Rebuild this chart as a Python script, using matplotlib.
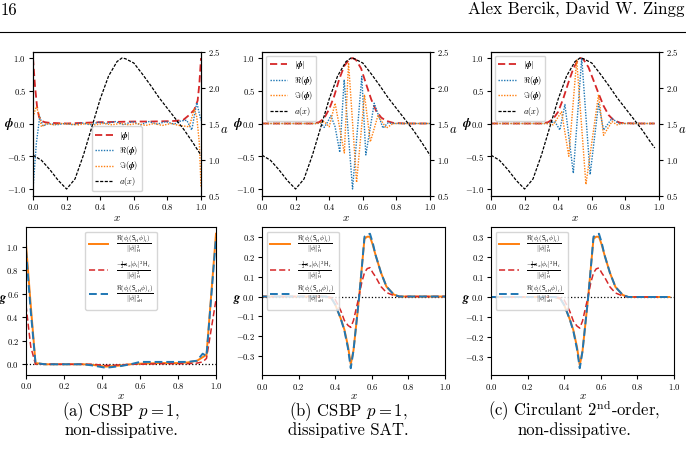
import matplotlib
matplotlib.use("Agg")
import matplotlib.pyplot as plt

plt.rcParams.update({
    "font.family": ["cmr10", "DejaVu Serif"],
    "mathtext.fontset": "cm",
    "axes.formatter.use_mathtext": True,
    "axes.unicode_minus": True,
    "xtick.labelsize": 6.2,
    "ytick.labelsize": 6.2,
    "axes.linewidth": 0.8,
})

C_RED = "#d62728"
C_BLUE = "#1f77b4"
C_ORANGE = "#ff7f0e"

# ---------------- coefficient a(x) ----------------
a_x = [0.0, 0.05, 0.1, 0.15, 0.2, 0.25, 0.3, 0.35, 0.4, 0.45, 0.5, 0.53, 0.55,
       0.6, 0.65, 0.7, 0.75, 0.8, 0.85, 0.9, 0.95, 1.0]
a_val = [1.06, 0.99, 0.86, 0.71, 0.59, 0.73, 1.06, 1.45, 1.84, 2.16, 2.36, 2.41, 2.40,
         2.34, 2.19, 2.03, 1.86, 1.71, 1.56, 1.41, 1.24, 1.06]
a_x_c = a_x[:-1] + [0.975]
a_val_c = a_val[:-1] + [1.16]

# ---------------- panel (a) eigenvector ----------------
absA_x = [0, 0.012, 0.024, 0.036, 0.05, 0.07, 0.1, 0.2, 0.3, 0.4, 0.5, 0.6, 0.7,
          0.8, 0.85, 0.895, 0.93, 0.96, 0.98, 0.99, 1.0]
absA = [1.0, 0.57, 0.26, 0.10, 0.04, 0.02, 0.01, 0.0, 0.01, 0.02, 0.025, 0.03, 0.03,
        0.035, 0.04, 0.056, 0.13, 0.21, 0.35, 0.6, 1.0]
reA_x = [0, 0.02, 0.04, 0.06, 0.09, 0.14, 0.19, 0.24, 0.29, 0.34, 0.39, 0.44, 0.49,
         0.54, 0.59, 0.64, 0.69, 0.74, 0.79, 0.84, 0.88, 0.915, 0.945, 0.975, 0.99, 1.0]
reA = [-1.0, -0.3, 0.10, -0.04, 0.0, -0.02, 0.0, -0.02, 0.01, -0.02, 0.02, 0.0, 0.03,
       -0.02, 0.03, -0.02, 0.03, -0.01, 0.03, -0.01, 0.04, 0.05, -0.10, 0.32, 0.15, 0.05]
imA_x = [0, 0.02, 0.04, 0.05, 0.08, 0.12, 0.17, 0.22, 0.27, 0.32, 0.37, 0.42, 0.47,
         0.52, 0.57, 0.62, 0.67, 0.72, 0.77, 0.82, 0.87, 0.93, 0.96, 0.975, 0.99, 1.0]
imA = [0.1, 0.26, 0.10, -0.05, 0.0, -0.02, 0.0, -0.01, -0.02, 0.0, -0.02, 0.0, -0.02,
       0.0, -0.02, 0.0, -0.03, 0.0, -0.03, 0.0, -0.03, -0.05, 0.22, 0.10, -0.3, -0.97]

# ---------------- panel (b) eigenvector ----------------
absB_x = [0.0, 0.30, 0.34, 0.37, 0.40, 0.43, 0.46, 0.49, 0.52, 0.54, 0.56, 0.59, 0.62,
          0.65, 0.68, 0.71, 0.74, 0.78, 0.85, 1.0]
absB = [0.0, 0.0, 0.02, 0.08, 0.22, 0.42, 0.68, 0.88, 0.98, 1.0, 0.97, 0.84, 0.60,
        0.37, 0.19, 0.09, 0.04, 0.01, 0.0, 0.0]
reB_x = [0.0, 0.33, 0.35, 0.37, 0.39, 0.41, 0.435, 0.463, 0.489, 0.539, 0.594, 0.618,
         0.668, 0.72, 0.75, 0.78, 1.0]
reB = [0.0, 0.0, 0.01, -0.06, 0.02, 0.12, -0.05, -0.44, 0.67, -1.0, 0.72, -0.48,
       0.31, -0.07, 0.01, 0.0, 0.0]
imB_x = [0.0, 0.33, 0.37, 0.40, 0.435, 0.49, 0.515, 0.563, 0.61, 0.645, 0.69, 0.74,
         0.78, 1.0]
imB = [0.0, 0.0, 0.03, -0.05, 0.31, -0.45, 0.93, -0.90, 0.44, -0.28, 0.12, -0.07,
       0.0, 0.0]

# ---------------- panel (c) eigenvector ----------------
absC_x = [0.0, 0.30, 0.34, 0.37, 0.40, 0.43, 0.46, 0.49, 0.52, 0.535, 0.55, 0.58, 0.61,
          0.64, 0.67, 0.70, 0.73, 0.77, 0.85, 0.975]
absC = [0.0, 0.0, 0.02, 0.07, 0.18, 0.38, 0.62, 0.84, 0.98, 1.0, 0.98, 0.86, 0.66,
        0.46, 0.27, 0.13, 0.05, 0.01, 0.0, 0.0]
reC_x = [0.0, 0.34, 0.38, 0.41, 0.44, 0.49, 0.54, 0.59, 0.64, 0.67, 0.72, 0.76, 0.975]
reC = [0.0, 0.0, 0.03, -0.10, 0.29, -0.76, 1.0, -0.78, 0.30, -0.10, 0.08, 0.0, 0.0]
imC_x = [0.0, 0.34, 0.37, 0.42, 0.463, 0.51, 0.565, 0.64, 0.67, 0.72, 0.75, 0.78, 0.975]
imC = [0.0, 0.0, -0.02, 0.18, -0.50, 0.97, -0.93, 0.44, -0.18, 0.03, -0.02, 0.0, 0.0]

# ---------------- energy-growth indicators g ----------------
gA_x = [0, 0.025, 0.05, 0.1, 0.2, 0.3, 0.35, 0.42, 0.5, 0.55, 0.6, 0.7, 0.8, 0.85,
        0.9, 0.93, 0.95, 1.0]
gA_S = [1.02, 0.5, 0.01, 0.0, 0.0, 0.0, -0.005, -0.02, -0.01, 0.0, 0.005, 0.01, 0.01,
        0.015, 0.03, 0.06, 0.08, 1.11]
gA_ax = [0.5, 0.15, 0.0, 0.0, 0.0, 0.0, 0.0, -0.01, -0.005, 0.0, 0.0, 0.005, 0.005,
         0.005, 0.01, 0.02, 0.05, 0.55]
gA_aH = [0.97, 0.45, 0.01, 0.0, 0.0, 0.0, -0.01, -0.03, -0.015, 0.0, 0.02, 0.02, 0.02,
         0.02, 0.03, 0.09, 0.07, 1.08]

gB_x = [0, 0.35, 0.38, 0.40, 0.43, 0.45, 0.47, 0.485, 0.50, 0.515, 0.53, 0.545, 0.56,
        0.575, 0.59, 0.605, 0.62, 0.65, 0.68, 0.72, 0.75, 1.0]
gB_S = [0, 0, -0.01, -0.04, -0.11, -0.165, -0.25, -0.34, -0.27, -0.14, -0.01, 0.14,
        0.29, 0.30, 0.30, 0.26, 0.21, 0.12, 0.05, 0.01, 0, 0]
gB_ax = [0, 0, -0.005, -0.015, -0.07, -0.12, -0.145, -0.155, -0.12, -0.06, 0.0, 0.07,
         0.12, 0.14, 0.145, 0.12, 0.10, 0.05, 0.02, 0.005, 0, 0]
gB_aH = [0, 0, -0.01, -0.04, -0.11, -0.17, -0.26, -0.36, -0.27, -0.14, -0.01, 0.14,
         0.30, 0.31, 0.315, 0.27, 0.21, 0.12, 0.05, 0.01, 0, 0]

gC_x = [0, 0.35, 0.38, 0.40, 0.43, 0.45, 0.47, 0.485, 0.50, 0.515, 0.53, 0.545, 0.56,
        0.575, 0.59, 0.605, 0.62, 0.65, 0.68, 0.72, 0.75, 0.975]
gC_S = [0, 0, -0.01, -0.04, -0.11, -0.165, -0.25, -0.34, -0.27, -0.14, -0.01, 0.14,
        0.29, 0.30, 0.30, 0.26, 0.21, 0.12, 0.05, 0.01, 0, 0]
gC_ax = [0, 0, -0.005, -0.015, -0.07, -0.12, -0.145, -0.155, -0.12, -0.06, 0.0, 0.07,
         0.12, 0.14, 0.145, 0.12, 0.10, 0.05, 0.02, 0.005, 0, 0]
gC_aH = [0, 0, -0.01, -0.04, -0.11, -0.17, -0.26, -0.355, -0.27, -0.14, -0.01, 0.14,
         0.30, 0.31, 0.315, 0.27, 0.21, 0.12, 0.05, 0.01, 0, 0]

x_ticks = [0.0, 0.2, 0.4, 0.6, 0.8, 1.0]
phi_ticks = [-1.0, -0.5, 0.0, 0.5, 1.0]
a_ticks = [0.5, 1.0, 1.5, 2.0, 2.5]

lab_abs = r"$|\boldsymbol{\phi}|$"
lab_re = r"$\Re(\boldsymbol{\phi})$"
lab_im = r"$\Im(\boldsymbol{\phi})$"
lab_a = r"$a(x)$"

lab_g1 = r"$\frac{\Re(\phi_i(\mathsf{S}_{\mathsf{H}}\phi)_i)}{\|\phi\|^2_{\mathsf{H}}}$"
lab_g2 = r"$\frac{-\frac{1}{2}a_x|\phi_i|^2\mathsf{H}_i}{\|\phi\|^2_{\mathsf{H}}}$"
lab_g3 = r"$\frac{\Re(\phi_i(\mathsf{S}_{a\mathsf{H}}\phi)_i)}{\|\phi\|^2_{a\mathsf{H}}}$"

captions = [("(a) CSBP $p = 1$,", "non-dissipative."),
            ("(b) CSBP $p = 1$,", "dissipative SAT."),
            ("(c) Circulant 2$^{\\mathrm{nd}}$-order,", "non-dissipative.")]

W, H = 686, 451
fig = plt.figure(figsize=(W / 100, H / 100), dpi=100)


def rect(l, t, r, b):
    return [l / W, 1 - b / H, (r - l) / W, (b - t) / H]


top_rects = [rect(33, 51.5, 201, 195.5), rect(262, 51.5, 430, 195.5), rect(491, 51.5, 659, 195.5)]
bot_rects = [rect(26, 227, 216, 374.5), rect(262, 227, 445, 375), rect(491, 227, 674, 375)]

top_data = [
    (absA_x, absA, reA_x, reA, imA_x, imA, a_x, a_val, "lower center"),
    (absB_x, absB, reB_x, reB, imB_x, imB, a_x, a_val, "upper left"),
    (absC_x, absC, reC_x, reC, imC_x, imC, a_x_c, a_val_c, "upper left"),
]

for k, (r, d) in enumerate(zip(top_rects, top_data)):
    ax = fig.add_axes(r)
    ax2 = ax.twinx()
    l1, = ax.plot(d[0], d[1], color=C_RED, ls=(0, (4, 2)), lw=1.3)
    l2, = ax.plot(d[2], d[3], color=C_BLUE, ls=(0, (1, 1)), lw=1.0)
    l3, = ax.plot(d[4], d[5], color=C_ORANGE, ls=(0, (1, 1)), lw=1.0)
    l4, = ax2.plot(d[6], d[7], color="black", ls=(0, (2.5, 1.2)), lw=0.9)
    ax.set_xlim(0, 1)
    ax.set_ylim(-1.1, 1.1)
    ax2.set_ylim(0.5, 2.5)
    ax.set_xticks(x_ticks)
    ax.set_yticks(phi_ticks)
    ax2.set_yticks(a_ticks)
    ax.tick_params(length=3, width=0.8, pad=2)
    ax2.tick_params(length=3, width=0.8, pad=2)
    ax.set_xlabel(r"$x$", fontsize=8, labelpad=1)
    ax.set_ylabel(r"$\boldsymbol{\phi}$", fontsize=9, rotation=0, va="center", ha="center")
    ax.yaxis.set_label_coords(-0.145, 0.5)
    ax2.set_ylabel(r"$a$", fontsize=9, rotation=0, va="center", ha="center")
    ax2.yaxis.set_label_coords(1.135, 0.455)
    ax.legend([l1, l2, l3, l4], [lab_abs, lab_re, lab_im, lab_a], loc=d[8],
              fontsize=6, handlelength=2.1, labelspacing=0.3, borderpad=0.4,
              handletextpad=0.8)

bot_data = [
    (gA_x, gA_S, gA_ax, gA_aH, "upper center", -0.12),
    (gB_x, gB_S, gB_ax, gB_aH, "upper left", -0.135),
    (gC_x, gC_S, gC_ax, gC_aH, "upper left", -0.135),
]

for k, (r, d) in enumerate(zip(bot_rects, bot_data)):
    ax = fig.add_axes(r)
    ax.axhline(0, color="black", ls=":", lw=0.9)
    l1, = ax.plot(d[0], d[1], color=C_ORANGE, ls="-", lw=1.4)
    l2, = ax.plot(d[0], d[2], color=C_RED, ls=(0, (4, 2)), lw=1.1)
    l3, = ax.plot(d[0], d[3], color=C_BLUE, ls=(0, (4, 2)), lw=1.4)
    ax.set_xlim(0, 1)
    ax.set_xticks(x_ticks)
    ax.tick_params(length=3, width=0.8, pad=2)
    ax.set_xlabel(r"$x$", fontsize=8, labelpad=0)
    ax.set_ylabel(r"$\boldsymbol{g}$", fontsize=9, rotation=0, va="center", ha="center")
    ax.yaxis.set_label_coords(d[5], 0.51)
    ax.legend([l1, l2, l3], [lab_g1, lab_g2, lab_g3], loc=d[4], fontsize=6.5,
              handlelength=2.2, labelspacing=0.35, borderpad=0.4, handletextpad=0.8)

# captions
cap_x = [121, 348, 574]
for cx, (c1, c2) in zip(cap_x, captions):
    fig.text(cx / W, 1 - 416.5 / H, c1, ha="center", va="baseline", fontsize=12)
    fig.text(cx / W, 1 - 435 / H, c2, ha="center", va="baseline", fontsize=12)

# page header
fig.text(1 / W, 1 - 10 / H, "16", ha="left", va="center", fontsize=12)
fig.text(685 / W, 1 - 10 / H, "Alex Bercik, David W. Zingg", ha="right", va="center",
         fontsize=12.2)
fig.add_artist(plt.Line2D([0, 1], [1 - 32 / H, 1 - 32 / H], color="black", lw=0.8,
                          transform=fig.transFigure))

fig.savefig("out.png", dpi=100)
